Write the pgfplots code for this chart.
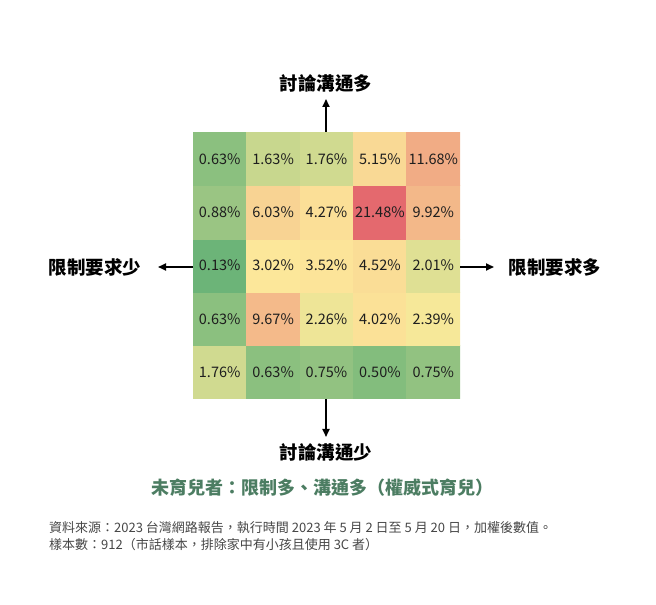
\documentclass[border=0pt]{standalone}
\usepackage{fontspec}
\setmainfont{Noto Sans CJK TC}
\usepackage{pgfplots}
\usepackage{pgfplotstable}
\pgfplotsset{compat=1.18}
\usetikzlibrary{arrows.meta}

\definecolor{titlegreen}{RGB}{76,125,98}
\definecolor{notegray}{RGB}{70,70,70}
\definecolor{celltext}{RGB}{30,30,30}

% rows from bottom (y=0) to top (y=4)
\pgfplotstableread{
x y v
0 0 1.76
1 0 0.63
2 0 0.75
3 0 0.50
4 0 0.75
0 1 0.63
1 1 9.67
2 1 2.26
3 1 4.02
4 1 2.39
0 2 0.13
1 2 3.02
2 2 3.52
3 2 4.52
4 2 2.01
0 3 0.88
1 3 6.03
2 3 4.27
3 3 21.48
4 3 9.92
0 4 0.63
1 4 1.63
2 4 1.76
3 4 5.15
4 4 11.68
}\cells

% green -> yellow (about 2.5%) -> red
\pgfplotsset{colormap={hm}{rgb255(0cm)=(108,180,120) rgb255(2.37cm)=(253,235,155) rgb255(21.35cm)=(228,105,110)}}

\begin{document}
\begin{tikzpicture}[x=1pt,y=1pt]
\path[use as bounding box] (0,0) rectangle (656,605);
\begin{axis}[
    at={(193pt,206pt)}, anchor=south west,
    scale only axis, width=267pt, height=267pt,
    xmin=-0.5, xmax=4.5, ymin=-0.5, ymax=4.5,
    hide axis,
    colormap name=hm,
    point meta min=0.13, point meta max=21.48,
    /pgf/number format/assume math mode=true,
]
  \addplot[matrix plot*, mesh/cols=5, point meta=\thisrow{v}] table[x=x, y=y] {\cells};
  \addplot[draw=none, mark=none, point meta=\thisrow{v},
    nodes near coords={\pgfmathprintnumber[fixed,zerofill,precision=2]{\pgfplotspointmeta}\%},
    every node near coord/.append style={anchor=center, font=\fontsize{14.5}{16}\selectfont, text=celltext}]
    table[x=x, y=y] {\cells};
\end{axis}

\draw[line width=1.8pt, -{Triangle[length=8pt,width=7pt]}] (326,473) -- (326,506);
\draw[line width=1.8pt, -{Triangle[length=8pt,width=7pt]}] (326,206) -- (326,168);
\draw[line width=1.8pt, -{Triangle[length=8pt,width=7pt]}] (193,338) -- (158,338);
\draw[line width=1.8pt, -{Triangle[length=8pt,width=7pt]}] (460,338) -- (494,338);

\node[font=\bfseries\fontsize{18.5}{20}\selectfont] at (326,522) {討論溝通多};
\node[font=\bfseries\fontsize{18.5}{20}\selectfont] at (326,153) {討論溝通少};
\node[font=\bfseries\fontsize{18.5}{20}\selectfont] at (95,338) {限制要求少};
\node[font=\bfseries\fontsize{18.5}{20}\selectfont] at (555,338) {限制要求多};

\node[font=\bfseries\fontsize{18}{20}\selectfont, text=titlegreen] at (322,117) {未育兒者：限制多、溝通多（權威式育兒）};

\node[anchor=west, inner sep=0pt, font=\fontsize{13}{15}\selectfont, text=notegray] at (49,77) {資料來源：2023 台灣網路報告，執行時間 2023 年 5 月 2 日至 5 月 20 日，加權後數值。};
\node[anchor=west, inner sep=0pt, font=\fontsize{13}{15}\selectfont, text=notegray] at (49,60) {樣本數：912（市話樣本，排除家中有小孩且使用 3C 者）};
\end{tikzpicture}
\end{document}
